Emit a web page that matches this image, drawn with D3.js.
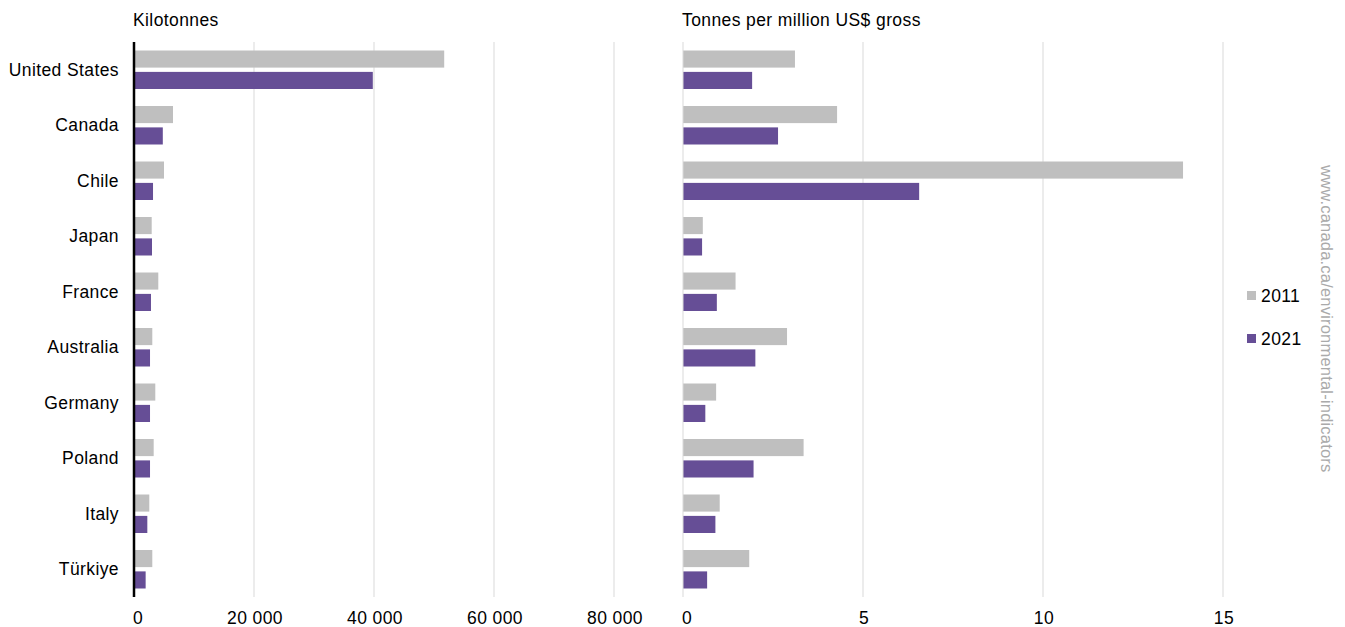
<!DOCTYPE html>
<html>
<head>
<meta charset="utf-8">
<script src="https://cdn.jsdelivr.net/npm/d3@7"></script>
<style>
  body { margin: 0; background: #fff; }
  text { font-family: "Liberation Sans", Arial, sans-serif; fill: #000; letter-spacing: 0.4px; }
</style>
</head>
<body>
<div id="chart"></div>
<script>
"use strict";

// data
var countries = ["United States", "Canada", "Chile", "Japan", "France",
  "Australia", "Germany", "Poland", "Italy", "Türkiye"];
var years = ["2011", "2021"];

// kilotonnes
var kt2011 = [51700, 6500, 5000, 2950, 4050, 3050, 3550, 3280, 2550, 3050];
var kt2021 = [39800, 4800, 3170, 3000, 2830, 2670, 2670, 2670, 2220, 1940];

// tonnes per million US$ gross
var int2011 = [3.11, 4.28, 13.89, 0.55, 1.46, 2.89, 0.92, 3.35, 1.02, 1.84];
var int2021 = [1.92, 2.64, 6.56, 0.53, 0.94, 2.01, 0.62, 1.96, 0.90, 0.67];

var leftTicks = [0, 20000, 40000, 60000, 80000];
var rightTicks = [0, 5, 10, 15];

var colors = { "2011": "#bfbfbf", "2021": "#664e96" };

var width = 1345,
  height = 627;

var svg = d3
  .select("#chart")
  .append("svg")
  .attr("width", width)
  .attr("height", height);

var plotTop = 42,
  plotBottom = 597;

var y = d3.scaleBand().domain(countries).range([plotTop, plotBottom]).padding(0);
var ySub = d3
  .scaleBand()
  .domain(years)
  .range([8.5, y.bandwidth() - 8.5])
  .paddingInner(0.2);

var fmt = function(d) {
  return d3.format(",")(d).replace(/,/g, " ");
};

// one panel of grouped bars
function panel(x, v2011, v2021, ticks, tickFmt, title, axisColor, axisWidth) {
  var g = svg.append("g");

  // gridlines
  g.selectAll("line.grid")
    .data(ticks.slice(1))
    .enter()
    .append("line")
    .attr("class", "grid")
    .attr("x1", d => x(d))
    .attr("x2", d => x(d))
    .attr("y1", plotTop)
    .attr("y2", plotBottom)
    .attr("stroke", "#d9d9d9")
    .attr("stroke-width", 1);

  var rows = countries.map(function(c, i) {
    return { country: c, vals: [{ year: "2011", v: v2011[i] }, { year: "2021", v: v2021[i] }] };
  });

  var grp = g.selectAll("g.row")
    .data(rows)
    .enter()
    .append("g")
    .attr("class", "row")
    .attr("transform", d => "translate(0," + y(d.country) + ")");

  grp.selectAll("rect")
    .data(d => d.vals)
    .enter()
    .append("rect")
    .attr("x", x(0))
    .attr("y", d => ySub(d.year))
    .attr("width", d => x(d.v) - x(0))
    .attr("height", ySub.bandwidth())
    .attr("fill", d => colors[d.year]);

  // zero axis line
  g.append("line")
    .attr("x1", x(0))
    .attr("x2", x(0))
    .attr("y1", plotTop)
    .attr("y2", plotBottom)
    .attr("stroke", axisColor)
    .attr("stroke-width", axisWidth);

  // x tick labels
  g.selectAll("text.tick")
    .data(ticks)
    .enter()
    .append("text")
    .attr("class", "tick")
    .attr("x", d => x(d) + (d === 0 ? 4 : 1))
    .attr("y", 624)
    .attr("text-anchor", "middle")
    .style("font-size", "17.5px")
    .text(tickFmt);

  g.append("text")
    .attr("x", x(0) - 1)
    .attr("y", 26)
    .style("font-size", "17.5px")
    .text(title);
}

var xLeft = d3.scaleLinear().domain([0, 80000]).range([134, 614]);
var xRight = d3.scaleLinear().domain([0, 15]).range([683, 1223]);

panel(xLeft, kt2011, kt2021, leftTicks, fmt, "Kilotonnes", "#000", 2.5);
panel(xRight, int2011, int2021, rightTicks, d => d, "Tonnes per million US$ gross", "#d9d9d9", 1);

// country labels
svg.selectAll("text.cat")
  .data(countries)
  .enter()
  .append("text")
  .attr("class", "cat")
  .attr("x", 119)
  .attr("y", d => y(d) + y.bandwidth() / 2 + 6)
  .attr("text-anchor", "end")
  .style("font-size", "17.5px")
  .text(d => d);

// legend
var legend = svg.selectAll("g.legend")
  .data(years)
  .enter()
  .append("g")
  .attr("class", "legend")
  .attr("transform", (d, i) => "translate(1247," + (291 + i * 43) + ")");

legend.append("rect")
  .attr("width", 9)
  .attr("height", 9)
  .attr("fill", d => colors[d]);

legend.append("text")
  .attr("x", 14)
  .attr("y", 11)
  .style("font-size", "17.5px")
  .text(d => d);

// source note, rotated
svg.append("text")
  .attr("transform", "translate(1321,165) rotate(90)")
  .style("font-size", "16.5px")
  .style("letter-spacing", "0.2px")
  .style("fill", "#aaaaaa")
  .text("www.canada.ca/environmental-indicators");
</script>
</body>
</html>
